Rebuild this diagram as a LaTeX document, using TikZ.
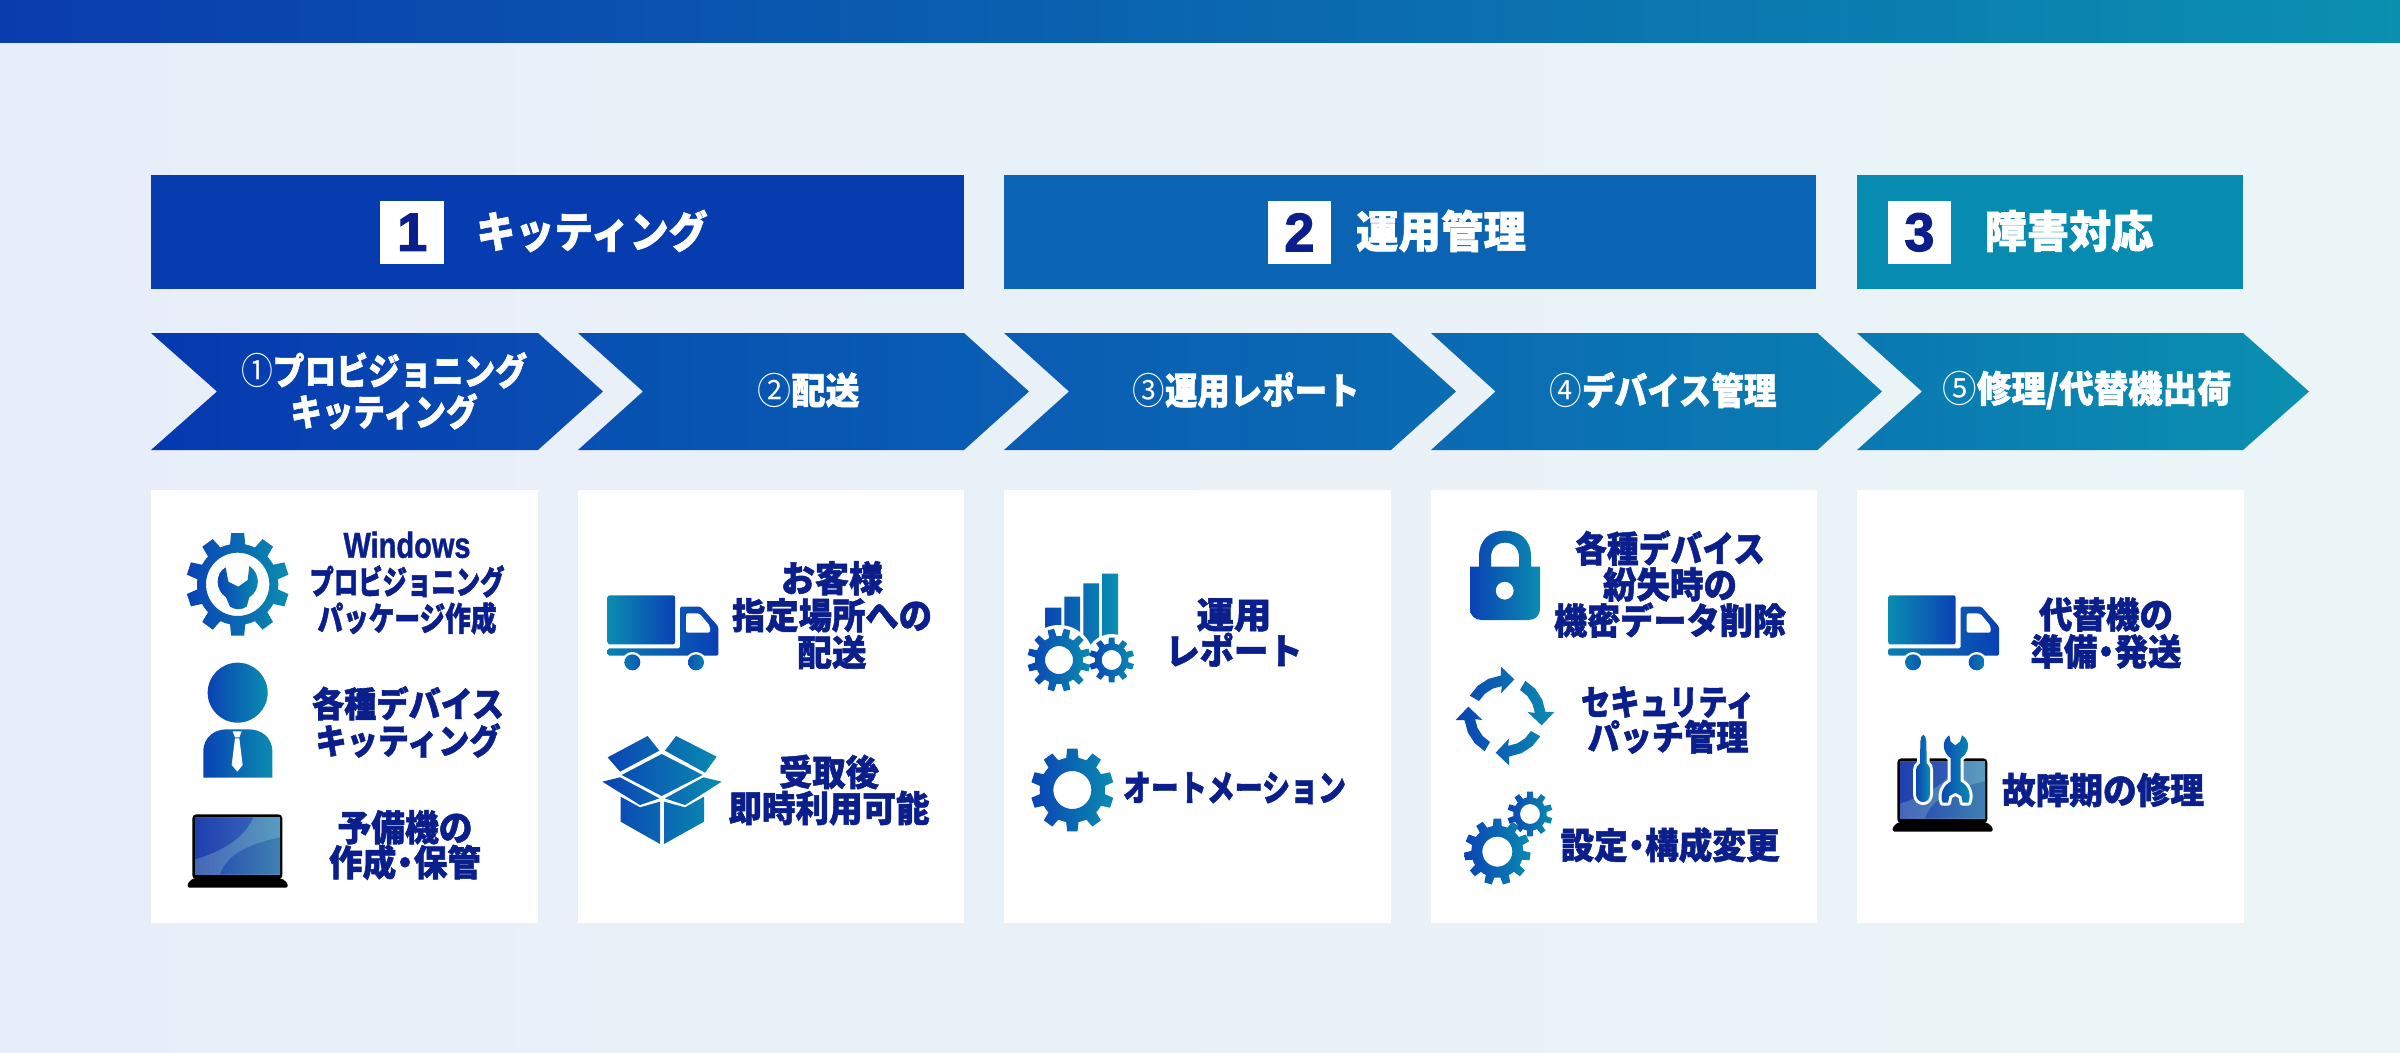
\documentclass[tikz,border=0pt]{standalone}
\usepackage{graphicx}
\usepackage{fontspec}
\newfontfamily\jpb{Noto Sans CJK JP}[BoldFeatures={FakeBold=1.5}]
\newfontfamily\jpr{Noto Sans CJK JP}
\newfontfamily\lat{Liberation Sans}[BoldFeatures={FakeBold=1.2}]
\newfontfamily\digitf{Liberation Sans}[BoldFeatures={FakeBold=2.2}]
\definecolor{navy}{HTML}{0A1F8C}
\definecolor{gA}{HTML}{0A42B4}
\definecolor{gB}{HTML}{0A8CB0}
\newcommand\dc[1]{\definecolor{c#1}{HTML}{#1}}
\dc{E8EEF9}\dc{EBF5F7}\dc{0A3CAE}\dc{0B90B0}\dc{063CB0}\dc{0B64B3}\dc{078BB0}
\dc{0538B0}\dc{0A4FB2}\dc{0650B1}\dc{0A5EB3}\dc{0A5CB3}\dc{0A6CB3}\dc{0A6AB3}\dc{0A7EB2}\dc{0A78B2}\dc{0A90B0}
\dc{4566B8}\dc{5A9CC0}\dc{1F3FAE}\dc{3560B8}\dc{2A55B0}\dc{3F80B0}\dc{0A80B0}\dc{0A3FB5}\dc{0A78B0}\dc{0A55B4}\dc{0A50B4}\dc{0A45B5}\dc{0A8CB0}
\newcommand\fs[2]{\fontsize{#1pt}{#2pt}\selectfont\lineskiplimit=-100pt\jpb\bfseries}
\newcommand\LN[2]{\resizebox{#1pt}{\height}{#2}}
\newcommand\nk{\kern-.24em ・\kern-.24em }
\newcommand\ring[1]{{\jpr\mdseries #1}}
\tikzset{
  zoomat/.style 2 args={xshift=#1pt,yshift=-#2pt,x=.33333pt,y=-.33333pt},
  icong/.style={left color=gA,right color=gB},
  icongr/.style={left color=gB,right color=gA},
  panel/.style={fill=white,inner sep=0pt,minimum height=433pt,minimum width=386.6pt,anchor=north west},
  hdr/.style={inner sep=0pt,minimum height=114pt,anchor=north west},
  sq/.style={fill=white,inner sep=0pt,minimum width=63.5pt,minimum height=63.5pt,text=navy,font={\fontsize{54pt}{54pt}\selectfont\digitf\bfseries}},
  lab/.style={align=center,inner sep=0pt,text=navy},
  wlab/.style={align=center,inner sep=0pt,text=white},
  tool/.style={preaction={draw=white,line width=6pt,line join=round},left color=c0A45B5,right color=c0A8CB0},
}
% cx cy Ro Rr Rh n rot
\newcommand\geartik[7]{%
  \pgfmathsetmacro\gs{360/#6}%
  \pgfmathtruncatemacro\gn{#6-1}%
  \shade[icong,even odd rule] ({#1+#4*cos(#7-0.3*\gs)},{#2+#4*sin(#7-0.3*\gs)})
    \foreach \gi in {0,...,\gn}{
      -- ({#1+#3*cos(#7+\gi*\gs-0.2*\gs)},{#2+#3*sin(#7+\gi*\gs-0.2*\gs)})
      -- ({#1+#3*cos(#7+\gi*\gs+0.2*\gs)},{#2+#3*sin(#7+\gi*\gs+0.2*\gs)})
      -- ({#1+#4*cos(#7+\gi*\gs+0.3*\gs)},{#2+#4*sin(#7+\gi*\gs+0.3*\gs)})
      -- ({#1+#4*cos(#7+\gi*\gs+0.5*\gs)},{#2+#4*sin(#7+\gi*\gs+0.5*\gs)})
      -- ({#1+#4*cos(#7+\gi*\gs+0.7*\gs)},{#2+#4*sin(#7+\gi*\gs+0.7*\gs)})
    } -- cycle (#1,#2) circle[radius=#5];
}
% left notch shoulder tip c1 c2
\newcommand\chev[6]{%
  \shade[left color=c#5,right color=c#6] (#1,333) -- (#3,333) -- (#4,391.5) -- (#3,450) -- (#1,450) -- (#2,391.5) -- cycle;
}
\newcommand\laptop{%
  \fill[black,rounded corners=4pt] (157,1003) rectangle (427,1198);
  \fill[black,rounded corners=1.5pt] (143,1223) -- (143,1210) -- (157,1196) -- (427,1196) -- (443,1210) -- (443,1223) -- cycle;
  \shade[left color=c4566B8,right color=c5A9CC0] (165,1012) rectangle (420,1183);
  \shade[left color=c1F3FAE,right color=c3560B8] (165,1012) -- (340,1012) .. controls (310,1080) and (240,1115) .. (165,1138) -- cycle;
  \shade[left color=c2A55B0,right color=c3F80B0] (240,1183) .. controls (265,1115) and (340,1090) .. (420,1072) -- (420,1183) -- cycle;
}
\newcommand\truck{%
  \shade[icongr,rounded corners=2pt] (113,346) rectangle (315,493);
  \shade[left color=c0A80B0,right color=c0A3FB5,rounded corners=1.5pt] (113,505) -- (330,505) -- (330,380) -- (392,380) -- (445,440) -- (445,527) -- (113,527) -- cycle;
  \fill[white,rounded corners=2pt] (348,400) -- (388,400) -- (420,438) -- (420,458) -- (348,458) -- cycle;
  \fill[white] (187,547) circle[radius=31] (378,547) circle[radius=31];
  \shade[left color=c0A78B0,right color=c0A55B4] (187,547) circle[radius=24];
  \shade[left color=c0A50B4,right color=c0A80B0] (378,547) circle[radius=24];
}
\begin{document}
\begin{tikzpicture}[x=1pt,y=-1pt]
\useasboundingbox (0,0) rectangle (2400,1052);
\shade[left color=cE8EEF9,right color=cEBF5F7] (0,0) rectangle (2400,1052);
\shade[left color=c0A3CAE,right color=c0B90B0] (0,0) rectangle (2400,42);

% header bands
\node[hdr,fill=c063CB0,minimum width=812.5pt] (h1) at (151,175) {};
\node[hdr,fill=c0B64B3,minimum width=812pt] (h2) at (1004,175) {};
\node[hdr,fill=c078BB0,minimum width=386pt] (h3) at (1857,175) {};
\node[sq] (n1) at (412.2,232.3) {1};
\node[sq] (n2) at (1299.4,232.3) {2};
\node[sq] (n3) at (1919.4,232.3) {3};
\node[wlab,font={\fs{43}{46}}] (t1) at (592,231) {\LN{231}{キッティング}};
\node[wlab,font={\fs{44}{46}}] (t2) at (1441,231) {\LN{170}{運用管理}};
\node[wlab,font={\fs{44}{46}}] (t3) at (2069,231) {\LN{169}{障害対応}};

% chevrons
\chev{151}{217}{538}{603}{0538B0}{0A4FB2}
\chev{578}{643}{964}{1029}{0650B1}{0A5EB3}
\chev{1004}{1069}{1391}{1456}{0A5CB3}{0A6CB3}
\chev{1431}{1495.5}{1817.5}{1882}{0A6AB3}{0A7EB2}
\chev{1857}{1922}{2243}{2309}{0A78B2}{0A90B0}
\node[wlab,font={\fs{37}{41}}] (a1) at (384,391) {\LN{286}{\ring{①}プロビジョニング}\\\LN{187}{キッティング}};
\node[wlab,font={\fs{37}{41}}] (a2) at (808.5,390) {\LN{102}{\ring{②}配送}};
\node[wlab,font={\fs{37}{41}}] (a3) at (1246,390) {\LN{227}{\ring{③}運用レポート}};
\node[wlab,font={\fs{37}{41}}] (a4) at (1663,390) {\LN{227}{\ring{④}デバイス管理}};
\node[wlab,font={\fs{37}{41}}] (a5) at (2087,390) {\LN{289}{\ring{⑤}修理/代替機出荷}};

% panels
\node[panel] (p1) at (151,490) {};
\node[panel] (p2) at (577.5,490) {};
\node[panel] (p3) at (1004,490) {};
\node[panel] (p4) at (1430.5,490) {};
\node[panel] (p5) at (1857,490) {};

% panel texts
\node[lab,font={\fs{33}{36.5}}] (l1) at (407,583) {\LN{127}{{\fontsize{36pt}{36pt}\selectfont\lat\bfseries Windows}}\\\LN{195}{プロビジョニング}\\\LN{179}{パッケージ作成}};
\node[lab,font={\fs{35}{37}}] (l2) at (408,722) {\LN{192}{各種デバイス}\\\LN{185}{キッティング}};
\node[lab,font={\fs{36}{35}}] (l3) at (405,845) {\LN{135}{予備機の}\\\LN{152}{作成\nk 保管}};
\node[lab,font={\fs{36}{37}}] (l4) at (832,615) {\LN{102}{お客様}\\\LN{200}{指定場所への}\\\LN{69}{配送}};
\node[lab,font={\fs{36}{36}}] (l5) at (829,790) {\LN{100}{受取後}\\\LN{201}{即時利用可能}};
\node[lab,font={\fs{36}{36}}] (l6) at (1234,632.5) {\LN{75}{運用}\\\LN{137}{レポート}};
\node[lab,font={\fs{36}{36}}] (l7) at (1234.5,788) {\LN{223}{オートメーション}};
\node[lab,font={\fs{36}{36}}] (l8) at (1670,584) {\LN{190}{各種デバイス}\\\LN{134}{紛失時の}\\\LN{232}{機密データ削除}};
\node[lab,font={\fs{35}{35}}] (l9) at (1668,720) {\LN{174}{セキュリティ}\\\LN{161}{パッチ管理}};
\node[lab,font={\fs{36}{36}}] (l10) at (1670,845) {\LN{219}{設定\nk 構成変更}};
\node[lab,font={\fs{36}{37}}] (l11) at (2106,633) {\LN{134}{代替機の}\\\LN{151}{準備\nk 発送}};
\node[lab,font={\fs{36}{36}}] (l12) at (2103,790) {\LN{202}{故障期の修理}};

% --- panel 1 icons
\begin{scope}[zoomat={140}{480}]
  \geartik{293}{313}{155}{122}{95}{10}{-90}
  \shade[icong] (257,262) .. controls (225,280) and (225,330) .. (258,352) -- (270,380) .. controls (285,390) and (305,390) .. (320,380) -- (328,352) .. controls (362,330) and (362,280) .. (328,258) -- (323,300) -- (295,320) -- (265,305) -- cycle;
  \shade[icong] (293,638) circle[radius=90];
  \shade[icong] (190,893) -- (190,815) .. controls (190,770) and (225,748) .. (260,748) -- (325,748) .. controls (362,748) and (397,770) .. (397,815) -- (397,893) -- cycle;
  \fill[white] (278,754) -- (305,754) -- (298,772) -- (285,772) -- cycle;
  \fill[white] (285,775) -- (298,775) -- (308,855) -- (292,875) -- (275,855) -- cycle;
  \laptop
\end{scope}

% --- panel 2 icons
\begin{scope}[zoomat={570}{480}]
  \truck
  \shade[icong]
    (233,768) -- (268,812) -- (150,875) -- (113,832) -- cycle
    (318,768) -- (440,830) -- (405,878) -- (285,812) -- cycle
    (275,822) -- (398,885) -- (275,948) -- (155,885) -- cycle
    (97,905) -- (150,892) -- (268,955) -- (210,975) -- cycle
    (455,905) -- (400,892) -- (285,955) -- (345,975) -- cycle
    (152,950) -- (210,982) -- (270,965) -- (270,1092) -- (152,1025) -- cycle
    (282,965) -- (345,982) -- (402,950) -- (402,1025) -- (282,1092) -- cycle;
\end{scope}

% --- panel 3 icons
\begin{scope}[zoomat={1000}{480}]
  \shade[left color=c0A45B5,right color=c0A90B0]
    (136,383) rectangle (184,460)
    (193,350) rectangle (240,470)
    (250,310) rectangle (297,500)
    (306,281) rectangle (354,500);
  \fill[white] (177,540) circle[radius=105] (335,540) circle[radius=78];
  \geartik{335}{540}{68}{50}{30}{10}{-90}
  \geartik{177}{540}{95}{72}{42}{12}{-75}
  \geartik{217}{930}{125}{98}{57}{10}{-90}
\end{scope}

% --- panel 4 icons
\begin{scope}[zoomat={1420}{480}]
  \shade[icong,even odd rule] (150,260) -- (177,260) -- (177,230) .. controls (177,175) and (215,152) .. (255,152) .. controls (295,152) and (333,175) .. (333,230) -- (333,260) -- (360,260) -- (360,385) .. controls (360,408) and (345,420) .. (325,420) -- (185,420) .. controls (165,420) and (150,408) .. (150,385) -- cycle
   (213,260) -- (213,232) .. controls (213,205) and (230,188) .. (255,188) .. controls (280,188) and (297,205) .. (297,232) -- (297,260) -- cycle
   (254,332) circle[radius=27];
  \newcommand\Pp[2]{({255+#1*cos(\r+#2)},{708+#1*sin(\r+#2)})}
  \shade[icong]
   \foreach \r in {0,90,180,270}{
     \Pp{122}{-150} -- \Pp{122}{-132} -- \Pp{122}{-114} -- \Pp{122}{-96} -- \Pp{148.5}{-94.6} -- \Pp{113.5}{-75.7} -- \Pp{69}{-100} -- \Pp{90}{-96} -- \Pp{90}{-114} -- \Pp{90}{-132} -- \Pp{90}{-150} -- cycle
   };
  \geartik{330}{1002}{68}{50}{30}{10}{-90}
  \fill[white] (232,1115) circle[radius=90];
  \geartik{232}{1115}{100}{78}{45}{11}{-90}
\end{scope}

% --- panel 5 icons
\begin{scope}[zoomat={1840}{480}]
  \begin{scope}[shift={(32,0)}]\truck\end{scope}
  \begin{scope}[shift={(15,-168)}]\laptop\end{scope}
  \path[tool]
    (241,785) -- (244,770) -- (250,764) -- (256,770) -- (259,785) -- (260,850) .. controls (268,855) and (270,862) .. (270,870) -- (270,940) .. controls (270,958) and (260,966) .. (249,966) .. controls (238,966) and (228,958) .. (228,940) -- (228,870) .. controls (228,862) and (232,855) .. (240,850) -- cycle;
  \path[tool]
    (328,766) -- (332,785) -- (346,796) -- (360,785) -- (366,766) .. controls (390,780) and (392,815) .. (362,835) -- (362,905) .. controls (385,915) and (395,945) .. (385,968) -- (368,968) -- (364,948) -- (346,938) -- (328,948) -- (324,968) -- (308,968) .. controls (298,945) and (310,915) .. (332,905) -- (332,835) .. controls (305,815) and (305,780) .. (328,766) -- cycle;
\end{scope}
\end{tikzpicture}
\end{document}
